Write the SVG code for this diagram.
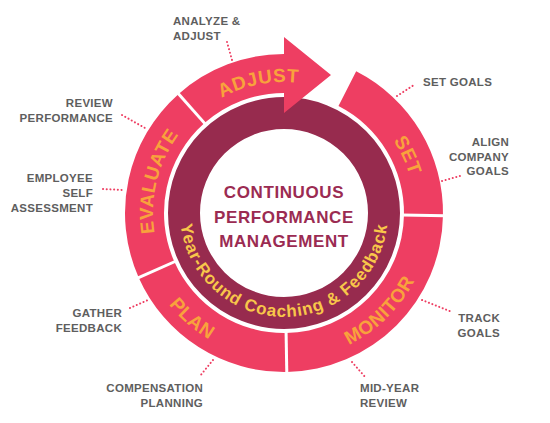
<svg xmlns="http://www.w3.org/2000/svg" width="550" height="423" viewBox="0 0 550 423">
<defs>
<style>
.seg{fill:#EE3E62;}
.sep{stroke:#fff;stroke-width:3;}
.seglbl{font-family:"Liberation Sans",Arial,sans-serif;font-weight:bold;font-size:19px;fill:#F8A23C;letter-spacing:0.6px;}
.lbl{font-family:"Liberation Sans",Arial,sans-serif;font-weight:bold;font-size:11.5px;fill:#5E5E5E;letter-spacing:0.3px;}
.ctr{font-family:"Liberation Sans",Arial,sans-serif;font-weight:bold;font-size:17px;fill:#9B2B52;letter-spacing:0.6px;}
.inner{font-family:"Liberation Sans",Arial,sans-serif;font-weight:bold;font-size:17px;fill:#F8C64A;letter-spacing:0.85px;}
.dot{stroke:#EE3E62;stroke-width:2;stroke-linecap:round;stroke-dasharray:0.1 3.6;fill:none;}
</style>
<path id="pEval" d="M 193.0 307.23 A 131 131 0 0 1 247.89 87.07"/>
<path id="pAdj" d="M 160.14 170.35 A 131 131 0 0 1 382.87 127.06"/>
<path id="pSet" d="M 295.42 82.50 A 131 131 0 0 1 391.31 288.14"/>
<path id="pMon" d="M 244.72 354.65 A 147 147 0 0 0 426.32 176.19"/>
<path id="pPlan" d="M 139.70 184.95 A 147 147 0 0 0 331.86 351.99"/>
<path id="pInner" d="M 186.27 177.43 A 104 104 0 1 0 381.73 177.43"/>
</defs>
<rect width="550" height="423" fill="#fff"/>

<g id="core">
<circle cx="284" cy="213" r="100" fill="none" stroke="#972B4E" stroke-width="32"/>
<text class="ctr" text-anchor="middle"><tspan x="284" y="198">CONTINUOUS</tspan><tspan x="284" y="223">PERFORMANCE</tspan><tspan x="284" y="247">MANAGEMENT</tspan></text>
<text class="inner" text-anchor="middle"><textPath href="#pInner" startOffset="50%">Year-Round Coaching &amp; Feedback</textPath></text>
</g>

<g id="seg-set">
<path class="seg" d="M 356.18 71.33 A 159 159 0 0 1 442.98 215.77 L 403.98 215.09 A 120 120 0 0 0 338.48 106.08 Z"/>
<text class="seglbl" text-anchor="middle"><textPath href="#pSet" startOffset="50%">SET</textPath></text>
</g>
<g id="seg-monitor">
<path class="seg" d="M 442.98 215.77 A 159 159 0 0 1 286.77 371.98 L 286.09 332.98 A 120 120 0 0 0 403.98 215.09 Z"/>
<text class="seglbl" text-anchor="middle"><textPath href="#pMon" startOffset="50%">MONITOR</textPath></text>
</g>
<g id="seg-plan">
<path class="seg" d="M 286.77 371.98 A 159 159 0 0 1 138.75 277.67 L 174.37 261.81 A 120 120 0 0 0 286.09 332.98 Z"/>
<text class="seglbl" text-anchor="middle"><textPath href="#pPlan" startOffset="50%">PLAN</textPath></text>
</g>
<g id="seg-evaluate">
<path class="seg" d="M 138.75 277.67 A 159 159 0 0 1 178.64 93.92 L 204.49 123.12 A 120 120 0 0 0 174.37 261.81 Z"/>
<text class="seglbl" text-anchor="middle"><textPath href="#pEval" startOffset="50%">EVALUATE</textPath></text>
</g>
<g id="seg-adjust">
<path class="seg" d="M 178.64 93.92 A 159 159 0 0 1 284 54 L 284 37 L 331 75 L 284 113 L 284 93 A 120 120 0 0 0 204.49 123.12 Z"/>
<text class="seglbl" text-anchor="middle"><textPath href="#pAdj" startOffset="50%">ADJUST</textPath></text>
</g>
<g id="separators">
<line class="sep" x1="401.98" y1="215.06" x2="444.98" y2="215.81"/>
<line class="sep" x1="286.06" y1="330.98" x2="286.81" y2="373.98"/>
<line class="sep" x1="176.20" y1="261.00" x2="136.92" y2="278.48"/>
<line class="sep" x1="205.81" y1="124.62" x2="177.32" y2="92.42"/>
</g>

<g id="connectors">
<line class="dot" x1="227" y1="42" x2="232" y2="60"/>
<line class="dot" x1="397" y1="96" x2="414" y2="85"/>
<line class="dot" x1="442" y1="181" x2="460" y2="176"/>
<line class="dot" x1="422" y1="300" x2="452" y2="312"/>
<line class="dot" x1="352" y1="362" x2="366" y2="378"/>
<line class="dot" x1="213" y1="360" x2="200" y2="376"/>
<line class="dot" x1="130" y1="308" x2="148" y2="300"/>
<line class="dot" x1="122" y1="115" x2="145" y2="128"/>
<line class="dot" x1="103" y1="189" x2="123" y2="190"/>
</g>

<g id="lbl-analyze"><text class="lbl"><tspan x="173" y="25">ANALYZE &amp;</tspan><tspan x="173" y="40">ADJUST</tspan></text></g>
<g id="lbl-setgoals"><text class="lbl"><tspan x="423" y="86">SET GOALS</tspan></text></g>
<g id="lbl-align"><text class="lbl" text-anchor="end"><tspan x="509" y="146">ALIGN</tspan><tspan x="509" y="160.5">COMPANY</tspan><tspan x="509" y="175">GOALS</tspan></text></g>
<g id="lbl-track"><text class="lbl" text-anchor="end"><tspan x="500" y="322">TRACK</tspan><tspan x="500" y="336.5">GOALS</tspan></text></g>
<g id="lbl-midyear"><text class="lbl"><tspan x="360" y="392">MID-YEAR</tspan><tspan x="360" y="407">REVIEW</tspan></text></g>
<g id="lbl-comp"><text class="lbl" text-anchor="end"><tspan x="203" y="392">COMPENSATION</tspan><tspan x="203" y="407">PLANNING</tspan></text></g>
<g id="lbl-gather"><text class="lbl" text-anchor="end"><tspan x="122" y="317">GATHER</tspan><tspan x="122" y="332">FEEDBACK</tspan></text></g>
<g id="lbl-review"><text class="lbl" text-anchor="end"><tspan x="113" y="107">REVIEW</tspan><tspan x="113" y="122">PERFORMANCE</tspan></text></g>
<g id="lbl-employee"><text class="lbl" text-anchor="end"><tspan x="93" y="182">EMPLOYEE</tspan><tspan x="93" y="197">SELF</tspan><tspan x="93" y="212">ASSESSMENT</tspan></text></g>
</svg>
